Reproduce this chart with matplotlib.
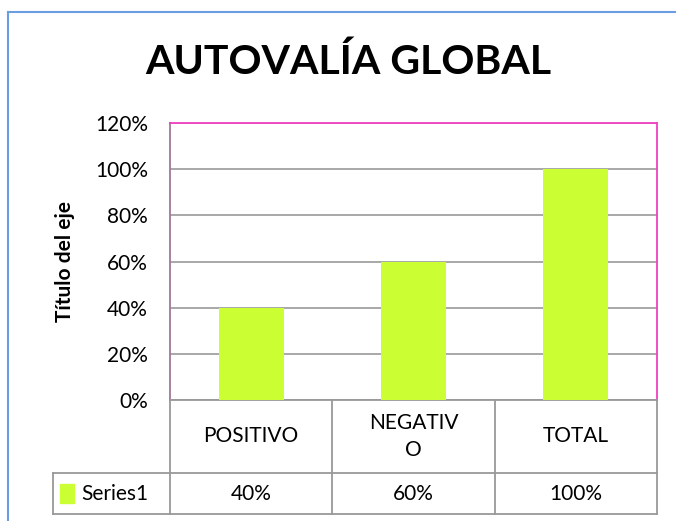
import matplotlib.pyplot as plt
from matplotlib.lines import Line2D
from matplotlib.transforms import blended_transform_factory

categories = ["POSITIVO", "NEGATIV\nO", "TOTAL"]
values = [40, 60, 100]
series_name = "Series1"
yticks = [0, 20, 40, 60, 80, 100, 120]

bar_color = "#CCFF33"
plt.rcParams['font.family'] = ['Lato', 'DejaVu Sans']

fig = plt.figure(figsize=(6.76, 5.21), dpi=100)
ax = fig.add_axes([170 / 676, 121 / 521, 487 / 676, 277 / 521])

x = list(range(len(categories)))
ax.bar(x, values, width=0.4, color=bar_color, zorder=3)
ax.set_xlim(-0.5, len(categories) - 0.5)
ax.set_ylim(0, 120)
ax.set_yticks(yticks)
ax.set_yticklabels([f"{v}%" for v in yticks], fontsize=15)
ax.tick_params(axis='y', length=0, pad=16)
ax.set_xticks([])
ax.grid(axis='y', color='#999999', linewidth=1.2, zorder=0)
ax.spines['top'].set_color('#F040C0')
ax.spines['right'].set_color('#F040C0')
ax.spines['left'].set_color('#A07898')
ax.spines['bottom'].set_color('#999999')
for s in ax.spines.values():
    s.set_linewidth(1.3)
ax.set_ylabel("Título del eje", fontsize=15, fontweight='bold', labelpad=14)

fig.text(348 / 676, 1 - 62 / 521, "AUTOVALÍA GLOBAL", fontsize=29.5, fontweight='bold',
         ha='center', va='center')

# data table under the axes
tr = blended_transform_factory(ax.transData, ax.transAxes)
row1 = -0.2635
row2 = -0.4116
left = -1.221
lc = '#999999'
edges = [-0.5 + i for i in range(len(categories) + 1)]
for e in edges:
    ax.add_line(Line2D([e, e], [0, row2], transform=tr, color=lc, lw=1.3, clip_on=False))
ax.add_line(Line2D([left, left], [row1, row2], transform=tr, color=lc, lw=1.3, clip_on=False))
ax.add_line(Line2D([left, edges[-1]], [row1, row1], transform=tr, color=lc, lw=1.3, clip_on=False))
ax.add_line(Line2D([left, edges[-1]], [row2, row2], transform=tr, color=lc, lw=1.3, clip_on=False))
for xi, cat, v in zip(x, categories, values):
    ax.text(xi, row1 / 2, cat, transform=tr, ha='center', va='center', fontsize=15,
            linespacing=1.45)
    ax.text(xi, (row1 + row2) / 2, f"{v}%", transform=tr, ha='center', va='center', fontsize=15)
ax.add_patch(plt.Rectangle((-1.18, (row1 + row2) / 2 - 0.035), 0.09, 0.07, transform=tr,
                           color=bar_color, clip_on=False))
ax.text(-1.045, (row1 + row2) / 2, series_name, transform=tr, ha='left', va='center', fontsize=15)

# outer chart border
fig.add_artist(Line2D([8 / 676, 1], [1 - 12 / 521, 1 - 12 / 521], transform=fig.transFigure,
                      color='#6A9EE0', lw=1.5))
fig.add_artist(Line2D([8 / 676, 8 / 676], [1 - 12 / 521, 0], transform=fig.transFigure,
                      color='#6A9EE0', lw=1.5))

fig.savefig("out.png", dpi=100)
